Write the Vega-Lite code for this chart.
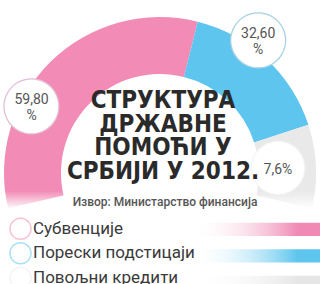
{
  "$schema": "https://vega.github.io/schema/vega-lite/v6.json",
  "padding": 0,
  "background": "white",
  "width": 320,
  "height": 330,
  "config": {"view": {"stroke": null}, "font": "Roboto"},
  "data": {
    "values": [
      {"cat": "Субвенције", "value": 59.8, "label": "59,80\n%"},
      {"cat": "Порески подстицаји", "value": 32.6, "label": "32,60\n%"},
      {"cat": "Повољни кредити", "value": 7.6, "label": "7,6%"}
    ]
  },
  "layer": [
    {
      "mark": {"type": "arc", "outerRadius": 156, "innerRadius": 99},
      "encoding": {
        "theta": {"field": "value", "type": "quantitative", "stack": true,
          "scale": {"domain": [0, 59.8, 92.4, 100], "range": [-1.7995, 0.2443, 1.2566, 1.7995]}},
        "color": {"field": "cat", "type": "nominal",
          "scale": {"domain": ["Субвенције", "Порески подстицаји", "Повољни кредити"],
                    "range": ["#F28CB7", "#5DC5EE", "#E9E9E9"]},
          "legend": {"orient": "none", "legendX": 9, "legendY": 209, "title": null,
            "symbolType": "M -1 0 A 1 1 0 1 0 1 0 A 1 1 0 1 0 -1 0 Z M -0.87 0 A 0.87 0.87 0 1 1 0.87 0 A 0.87 0.87 0 1 1 -0.87 0 Z",
            "symbolSize": 510, "symbolStrokeWidth": 0, "symbolOpacity": 0.55,
            "labelFont": "Roboto", "labelFontSize": 17, "labelColor": "#3a3a3a",
            "labelOffset": 1, "rowPadding": 0.5, "clipHeight": 23.5, "padding": 0, "labelLimit": 300}},
        "order": {"field": "value", "type": "quantitative", "sort": "descending"}
      }
    },
    {
      "data": {"values": [{}]},
      "mark": {"type": "rect", "color": {"gradient": "linear", "x1": 0, "y1": 0, "x2": 0, "y2": 1,
        "stops": [{"offset": 0, "color": "rgba(255,255,255,0)"},
                  {"offset": 0.555, "color": "rgba(255,255,255,0)"},
                  {"offset": 0.61, "color": "#ffffff"},
                  {"offset": 0.612, "color": "rgba(255,255,255,0)"},
                  {"offset": 1, "color": "rgba(255,255,255,0)"}]}},
      "encoding": {}
    },
    {
      "transform": [{"filter": "datum.cat === 'Субвенције'"}],
      "mark": {"type": "text", "text": "●", "font": "DejaVu Sans", "fontSize": 72, "radius": 144,
               "align": "center", "baseline": "middle", "dy": -5,
               "fill": "#ffffff", "stroke": "#E3BFD4", "strokeWidth": 1.2},
      "encoding": {"theta": {"datum": 20.4, "type": "quantitative"}}
    },
    {
      "transform": [{"filter": "datum.cat === 'Порески подстицаји'"}],
      "mark": {"type": "text", "text": "●", "font": "DejaVu Sans", "fontSize": 72, "radius": 164,
               "align": "center", "baseline": "middle", "dy": -5,
               "fill": "#ffffff", "stroke": "#A9D3E3", "strokeWidth": 1.2},
      "encoding": {"theta": {"datum": 72.6, "type": "quantitative"}}
    },
    {
      "transform": [{"filter": "datum.cat === 'Повољни кредити'"}],
      "mark": {"type": "text", "text": "●", "font": "DejaVu Sans", "fontSize": 70, "radius": 118,
               "align": "center", "baseline": "middle", "dy": -5,
               "fill": "#ffffff", "stroke": "#F3F3F3", "strokeWidth": 1},
      "encoding": {"theta": {"datum": 96.4, "type": "quantitative"}}
    },
    {
      "transform": [{"filter": "datum.cat === 'Субвенције'"}],
      "mark": {"type": "text", "radius": 144, "font": "Roboto", "fontSize": 14, "lineHeight": 16,
               "lineBreak": "\n", "align": "center", "baseline": "middle", "dy": -8, "color": "#555555"},
      "encoding": {"theta": {"datum": 20.4, "type": "quantitative"}, "text": {"field": "label"}}
    },
    {
      "transform": [{"filter": "datum.cat === 'Порески подстицаји'"}],
      "mark": {"type": "text", "radius": 164, "font": "Roboto", "fontSize": 14, "lineHeight": 16,
               "lineBreak": "\n", "align": "center", "baseline": "middle", "dy": -8, "color": "#555555"},
      "encoding": {"theta": {"datum": 72.6, "type": "quantitative"}, "text": {"field": "label"}}
    },
    {
      "transform": [{"filter": "datum.cat === 'Повољни кредити'"}],
      "mark": {"type": "text", "radius": 118, "font": "Roboto", "fontSize": 14,
               "align": "center", "baseline": "middle", "color": "#555555"},
      "encoding": {"theta": {"datum": 96.4, "type": "quantitative"}, "text": {"field": "label"}}
    },
    {
      "data": {"values": [{}]},
      "mark": {"type": "text", "text": ["СТРУКТУРА", "ДРЖАВНЕ", "ПОМОЋИ У", "СРБИЈИ У 2012."],
               "font": "Liberation Sans Narrow, DejaVu Sans Condensed, sans-serif", "fontWeight": "bold",
               "fontSize": 24, "lineHeight": 23.5, "align": "center", "baseline": "top",
               "color": "#2a2a2a", "dy": -84, "dx": 3},
      "encoding": {}
    },
    {
      "data": {"values": [{}]},
      "mark": {"type": "text", "text": "Извор: Министарство финансија",
               "font": "Roboto", "fontWeight": 500, "fontSize": 12, "align": "center",
               "baseline": "alphabetic", "color": "#555555", "dy": 33, "dx": 5},
      "encoding": {}
    },
    {
      "transform": [{"filter": "datum.cat === 'Субвенције'"}],
      "mark": {"type": "rect", "color": {"gradient": "linear", "x1": 0, "y1": 0, "x2": 1, "y2": 0,
        "stops": [{"offset": 0, "color": "rgba(255,255,255,0)"}, {"offset": 0.6, "color": "rgba(255,255,255,0)"},
                  {"offset": 0.93, "color": "#F08AB4"}, {"offset": 1, "color": "#F08AB4"}]}},
      "encoding": {"y": {"field": "cat", "type": "nominal", "axis": null,
        "scale": {"domain": ["Субвенције", "Порески подстицаји", "Повољни кредити"],
                  "range": [208, 287.5], "paddingInner": 0.5, "paddingOuter": 0.25}}}
    },
    {
      "transform": [{"filter": "datum.cat === 'Порески подстицаји'"}],
      "mark": {"type": "rect", "color": {"gradient": "linear", "x1": 0, "y1": 0, "x2": 1, "y2": 0,
        "stops": [{"offset": 0, "color": "rgba(255,255,255,0)"}, {"offset": 0.6, "color": "rgba(255,255,255,0)"},
                  {"offset": 0.93, "color": "#5DC5EE"}, {"offset": 1, "color": "#5DC5EE"}]}},
      "encoding": {"y": {"field": "cat", "type": "nominal", "axis": null}}
    },
    {
      "transform": [{"filter": "datum.cat === 'Повољни кредити'"}],
      "mark": {"type": "rect", "color": {"gradient": "linear", "x1": 0, "y1": 0, "x2": 1, "y2": 0,
        "stops": [{"offset": 0, "color": "rgba(255,255,255,0)"}, {"offset": 0.6, "color": "rgba(255,255,255,0)"},
                  {"offset": 0.93, "color": "#E6E6E6"}, {"offset": 1, "color": "#E6E6E6"}]}},
      "encoding": {"y": {"field": "cat", "type": "nominal", "axis": null}}
    }
  ]
}
